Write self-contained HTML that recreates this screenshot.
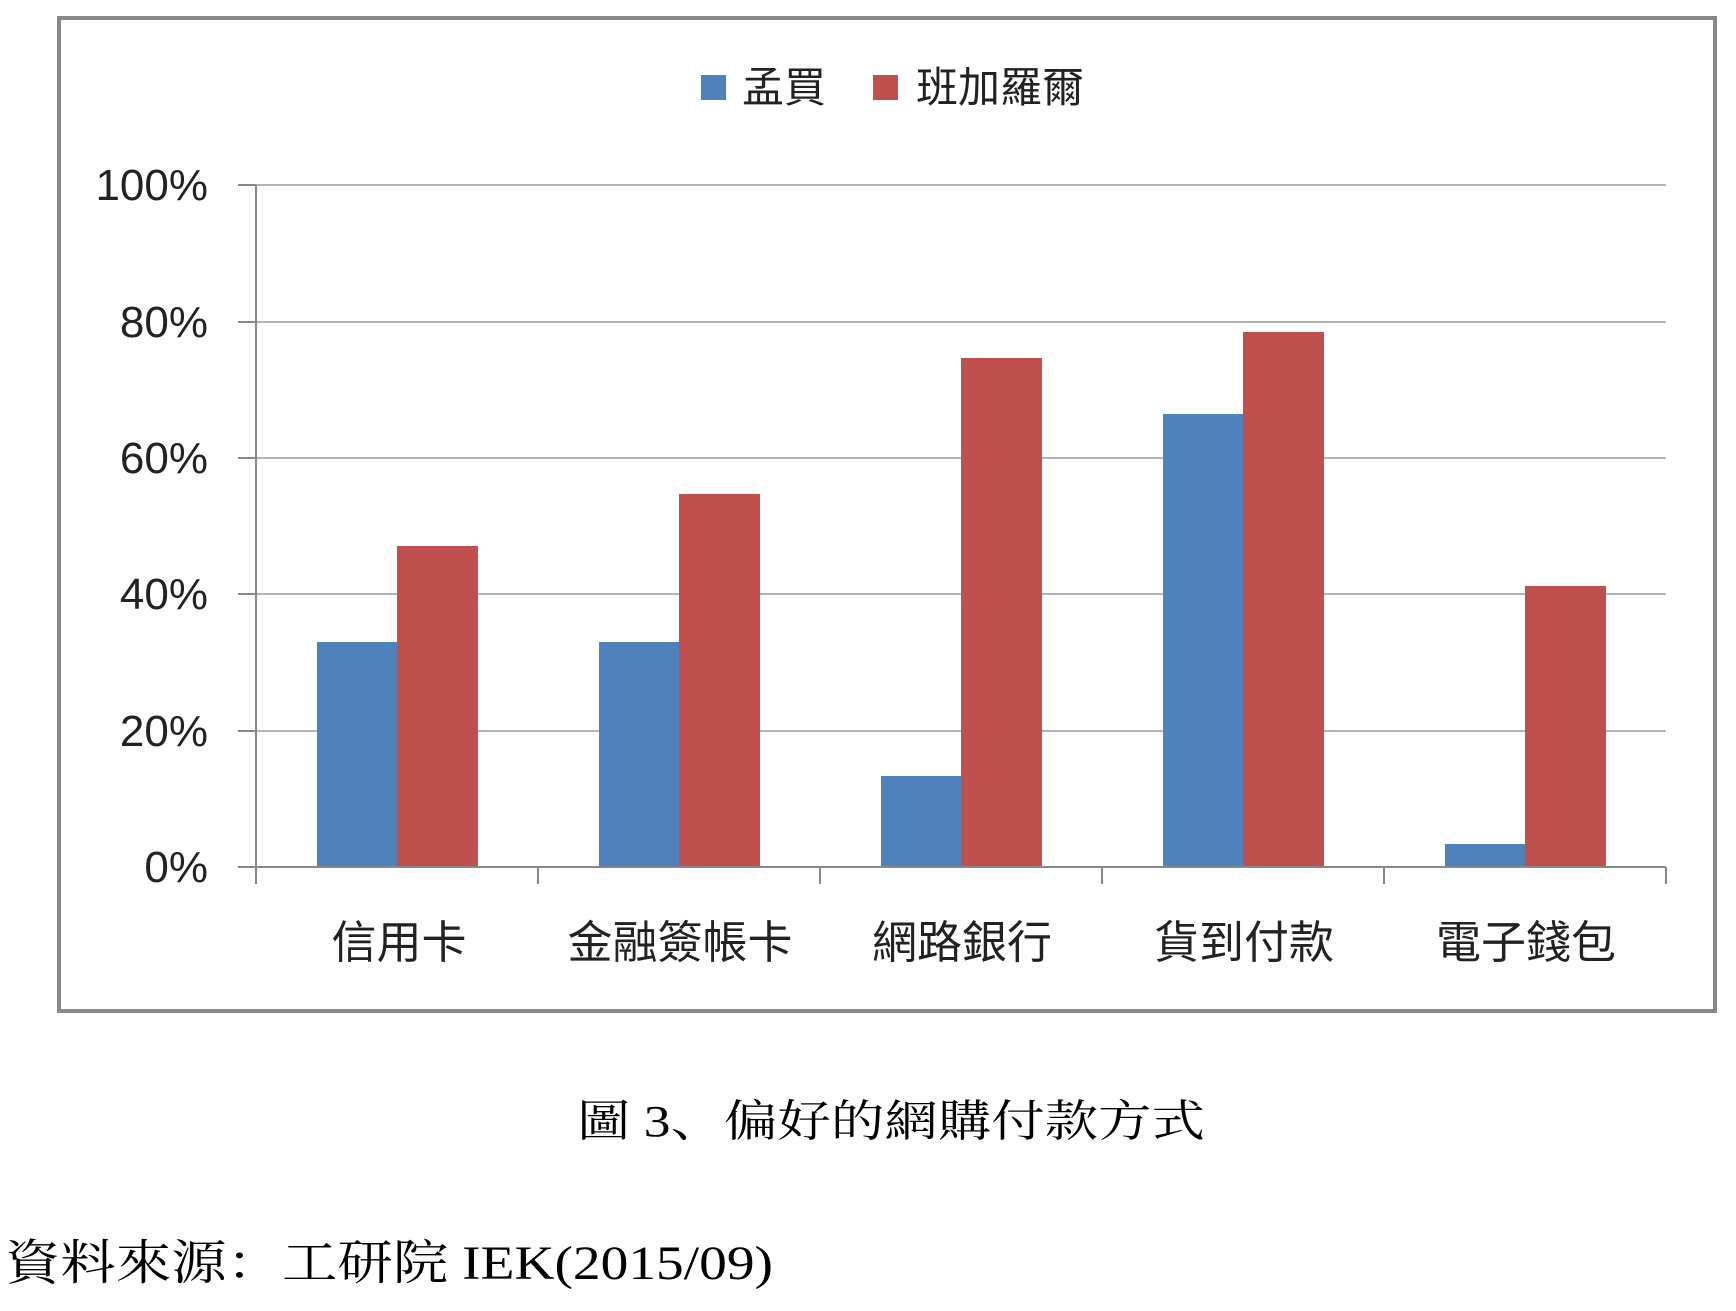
<!DOCTYPE html>
<html><head><meta charset="utf-8"><style>
html,body{margin:0;padding:0;background:#fff;}
</style></head><body>
<svg width="1736" height="1306" xmlns="http://www.w3.org/2000/svg">
<rect x="59" y="18" width="1656" height="993" fill="#fff" stroke="#888" stroke-width="4"/>
<g stroke="#b3b3b3" stroke-width="2">
<line x1="256" y1="185" x2="1666" y2="185"/>
<line x1="256" y1="322" x2="1666" y2="322"/>
<line x1="256" y1="458" x2="1666" y2="458"/>
<line x1="256" y1="594" x2="1666" y2="594"/>
<line x1="256" y1="731" x2="1666" y2="731"/>
</g>
<g fill="#4F81BD">
<rect x="317" y="642" width="80" height="225"/>
<rect x="599" y="642" width="80" height="225"/>
<rect x="881" y="776" width="80" height="91"/>
<rect x="1163" y="414" width="80" height="453"/>
<rect x="1445" y="844" width="80" height="23"/>
</g>
<g fill="#C0504D">
<rect x="397" y="546" width="81" height="321"/>
<rect x="679" y="494" width="81" height="373"/>
<rect x="961" y="358" width="81" height="509"/>
<rect x="1243" y="332" width="81" height="535"/>
<rect x="1525" y="586" width="81" height="281"/>
</g>
<g stroke="#888" stroke-width="2">
<line x1="256" y1="185" x2="256" y2="884"/>
<line x1="256" y1="867" x2="1666" y2="867"/>
<line x1="238" y1="185" x2="256" y2="185"/>
<line x1="238" y1="322" x2="256" y2="322"/>
<line x1="238" y1="458" x2="256" y2="458"/>
<line x1="238" y1="594" x2="256" y2="594"/>
<line x1="238" y1="731" x2="256" y2="731"/>
<line x1="238" y1="867" x2="256" y2="867"/>
<line x1="538" y1="867" x2="538" y2="884"/>
<line x1="820" y1="867" x2="820" y2="884"/>
<line x1="1102" y1="867" x2="1102" y2="884"/>
<line x1="1384" y1="867" x2="1384" y2="884"/>
<line x1="1666" y1="867" x2="1666" y2="884"/>
</g>
<g font-family="Liberation Sans, 'Noto Sans CJK TC', sans-serif" font-size="44" fill="#222" text-anchor="end">
<text x="208" y="200">100%</text>
<text x="208" y="337">80%</text>
<text x="208" y="473">60%</text>
<text x="208" y="609">40%</text>
<text x="208" y="746">20%</text>
<text x="208" y="882">0%</text>
</g>
<g font-family="Liberation Sans, 'Noto Sans CJK TC', sans-serif" font-size="45" fill="#222" text-anchor="middle">
<text x="399" y="958">信用卡</text>
<text x="680" y="958">金融簽帳卡</text>
<text x="962" y="958">網路銀行</text>
<text x="1244" y="958">貨到付款</text>
<text x="1526" y="958">電子錢包</text>
</g>
<rect x="701" y="75" width="25" height="25" fill="#4F81BD"/>
<rect x="873" y="75" width="25" height="25" fill="#C0504D"/>
<g font-family="Liberation Sans, 'Noto Sans CJK TC', sans-serif" font-size="42" fill="#222">
<text x="742" y="102">孟買</text>
<text x="916" y="102">班加羅爾</text>
</g>
<text x="577" y="1136" textLength="628" lengthAdjust="spacingAndGlyphs" font-family="Liberation Serif, 'Noto Serif CJK SC', serif" font-size="44" fill="#000">圖 3、偏好的網購付款方式</text>
<text x="5" y="1279" textLength="768" lengthAdjust="spacingAndGlyphs" font-family="Liberation Serif, 'Noto Serif CJK SC', serif" font-size="48" fill="#000">資料來源：工研院 IEK(2015/09)</text>
</svg>
</body></html>
